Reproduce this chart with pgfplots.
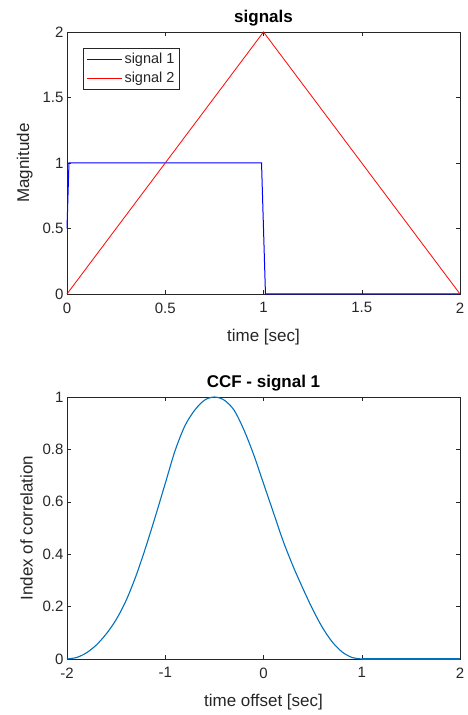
\documentclass[border=0pt]{standalone}
\usepackage{pgfplots}
\pgfplotsset{compat=1.18}
\usepackage{fontspec}
\setmainfont{Liberation Sans}
\definecolor{axgray}{rgb}{0.15,0.15,0.15}
\definecolor{mblue}{rgb}{0,0.447,0.741}
\definecolor{sigblue}{rgb}{0,0,1}
\definecolor{sigred}{rgb}{1,0,0}
\pgfplotsset{
  every axis/.append style={
    scale only axis, width=393pt, height=262pt,
    clip=false,
    axis line style={axgray}, tick style={axgray, thin},
    major tick length=4pt,
    tick label style={font=\fontsize{15}{18}\selectfont, text=axgray},
    label style={font=\fontsize{17}{20}\selectfont, text=axgray},
    title style={font=\fontsize{17}{20}\selectfont\bfseries, yshift=-4pt},
    /pgf/number format/assume math mode=true,
    xticklabel style={yshift=-5pt},
    xlabel style={yshift=-9pt},
    ylabel style={yshift=3pt},
  },
}
\begin{document}
\begin{tikzpicture}
\useasboundingbox (0,0) rectangle (468pt,715pt);
% top: the two signals
\begin{axis}[
  at={(67pt,421pt)}, anchor=south west,
  title={signals},
  xmin=0, xmax=2, ymin=0, ymax=2,
  xtick={0,0.5,1,1.5,2}, ytick={0,0.5,1,1.5,2},
  xlabel={time [sec]}, ylabel={Magnitude},
  legend style={at={(0.041,0.939)}, anchor=north west, draw=axgray,
    font=\fontsize{14.5}{16}\selectfont, row sep=3pt,
    inner sep=3pt},
  legend cell align=left,
  legend image code/.code={\draw[#1] (0pt,0pt) -- (35pt,0pt);},
]
\addplot[draw=sigblue, line width=1pt, forget plot] coordinates {
  (0,0.5) (0.01,1) (0.99,1) (1.01,0) (2,0)
};
\addplot[draw=sigred, line width=0.8pt, forget plot] coordinates {
  (0,0) (1,2) (2,0)
};
\addlegendimage{draw=sigblue, line width=1.2pt}
\addlegendentry{\textcolor{axgray}{signal 1}}
\addlegendimage{draw=sigred, line width=1pt}
\addlegendentry{\textcolor{axgray}{signal 2}}
\end{axis}
% bottom: cross-correlation
\begin{axis}[
  at={(67pt,56pt)}, anchor=south west,
  title={CCF - signal 1},
  xmin=-2, xmax=2, ymin=0, ymax=1,
  xtick={-2,-1,0,1,2}, ytick={0,0.2,0.4,0.6,0.8,1},
  xlabel={time offset [sec]}, ylabel={Index of correlation},
]
\addplot[mblue, line width=1.1pt, smooth] coordinates {
  (-2.0,0) (-1.9,0.006) (-1.8,0.024) (-1.7,0.054) (-1.6,0.096)
  (-1.5,0.15) (-1.4,0.222) (-1.3,0.315) (-1.2,0.425) (-1.1,0.545)
  (-1.0,0.67) (-0.9,0.795) (-0.8,0.89) (-0.7,0.95) (-0.6,0.988)
  (-0.5,1.0) (-0.4,0.988) (-0.3,0.95) (-0.2,0.875) (-0.1,0.78)
  (0.0,0.67) (0.1,0.56) (0.2,0.45) (0.3,0.355) (0.4,0.27)
  (0.5,0.19) (0.6,0.12) (0.7,0.065) (0.8,0.027) (0.9,0.006) (1.0,0)
};
\addplot[mblue, line width=1.1pt] coordinates {
  (1.0,0) (2.0,0)
};
\end{axis}
\end{tikzpicture}
\end{document}
